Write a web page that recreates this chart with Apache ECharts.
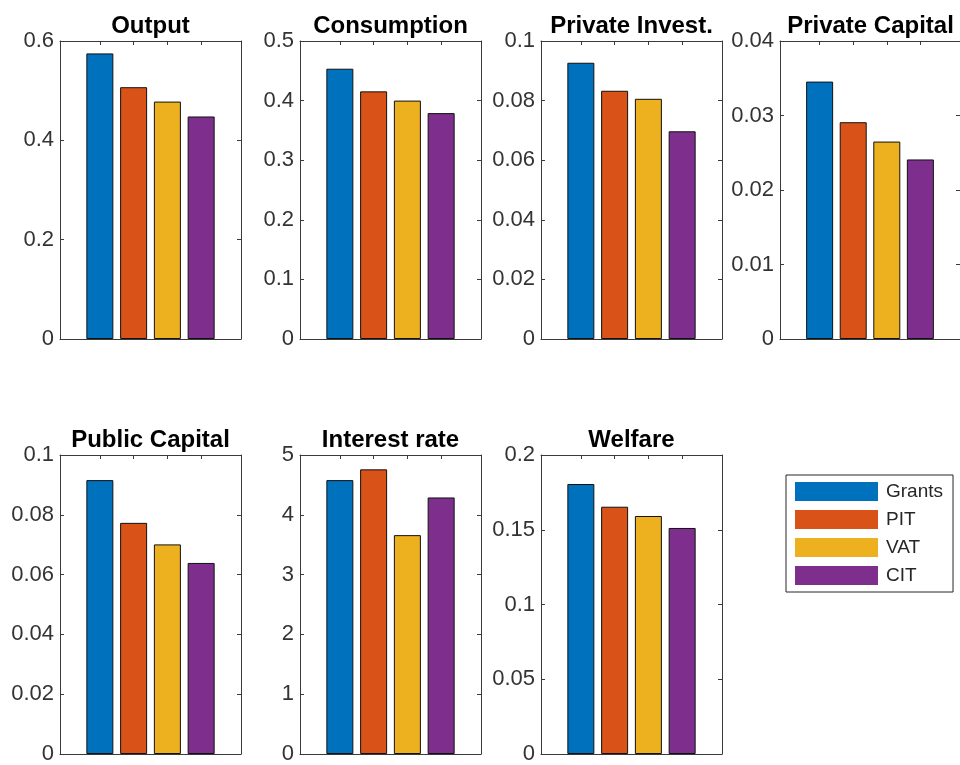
<!DOCTYPE html>
<html>
<head>
<meta charset="utf-8">
<script src="https://cdn.jsdelivr.net/npm/echarts@6/dist/echarts.min.js"></script>
<style>
html,body{margin:0;padding:0;background:#fff;}
#main{width:960px;height:765px;}
</style>
</head>
<body>
<div id="main"></div>
<script>
// ---- data ----
var categories = ['Grants', 'PIT', 'VAT', 'CIT'];
var panelTitles = ['Output', 'Consumption', 'Private Invest.', 'Private Capital', 'Public Capital', 'Interest rate', 'Welfare'];
var output = [0.575, 0.507, 0.478, 0.448];
var consumption = [0.4535, 0.4155, 0.400, 0.379];
var privateInvest = [0.0927, 0.0833, 0.0806, 0.0697];
var privateCapital = [0.03455, 0.0291, 0.0265, 0.0241];
var publicCapital = [0.0916, 0.0773, 0.0701, 0.0639];
var interestRate = [4.58, 4.76, 3.66, 4.29];
var welfare = [0.1806, 0.1654, 0.1592, 0.1512];
var yMax = [0.6, 0.5, 0.1, 0.04, 0.1, 5, 0.2];
var yStep = [0.2, 0.1, 0.02, 0.01, 0.02, 1, 0.05];
var barPositions = [1, 2, 3, 4];
var colors = ['#0072BD', '#D95319', '#EDB120', '#7E2F8E'];

var panelValues = [output, consumption, privateInvest, privateCapital, publicCapital, interestRate, welfare];

// ---- layout ----
var gridRects = [
  {left: 60, top: 41, width: 181, height: 298},
  {left: 300, top: 41, width: 181, height: 298},
  {left: 541, top: 41, width: 181, height: 298},
  {left: 780, top: 41, width: 181, height: 298},
  {left: 60, top: 455, width: 181, height: 299},
  {left: 300, top: 455, width: 181, height: 299},
  {left: 541, top: 455, width: 181, height: 299}
];

var FONT = "'Liberation Sans', Arial, Helvetica, sans-serif";
var AXC = '#3a3a3a';

var grids = [], xAxes = [], yAxes = [], series = [], titles = [];
gridRects.forEach(function (r, p) {
  grids.push({left: r.left, top: r.top, width: r.width, height: r.height, containLabel: false});
  titles.push({
    text: panelTitles[p],
    left: r.left + r.width / 2,
    top: r.top - 27,
    textAlign: 'center',
    padding: 0,
    textStyle: {fontFamily: FONT, fontSize: 24, fontWeight: 'bold', color: '#000'}
  });
  ['bottom', 'top'].forEach(function (pos) {
    xAxes.push({
      type: 'value', gridIndex: p, position: pos, min: -0.18, max: 5.18,
      axisLine: {show: true, onZero: false, lineStyle: {color: AXC, width: 1}},
      axisTick: {show: true, inside: true, length: 4, customValues: barPositions, lineStyle: {color: AXC}},
      axisLabel: {show: false},
      splitLine: {show: false}
    });
  });
  ['left', 'right'].forEach(function (pos) {
    yAxes.push({
      type: 'value', gridIndex: p, position: pos, min: 0, max: yMax[p], interval: yStep[p],
      axisLine: {show: true, onZero: false, lineStyle: {color: AXC, width: 1}},
      axisTick: {show: true, inside: true, length: 4, lineStyle: {color: AXC}},
      axisLabel: {show: pos === 'left', fontFamily: FONT, fontSize: 22, color: '#333', margin: 6,
        formatter: function (v) { return String(parseFloat(v.toFixed(6))); }},
      splitLine: {show: false}
    });
  });
  categories.forEach(function (c, i) {
    series.push({
      name: c,
      type: 'bar',
      xAxisIndex: p * 2,
      yAxisIndex: p * 2,
      stack: 'panel' + p,
      barWidth: 27,
      data: [[barPositions[i], panelValues[p][i]]],
      itemStyle: {color: colors[i], borderColor: '#111', borderWidth: 1},
      emphasis: {disabled: true},
      animation: false
    });
  });
});

var chart = echarts.init(document.getElementById('main'), null, {renderer: 'canvas'});
chart.setOption({
  animation: false,
  backgroundColor: '#fff',
  color: colors,
  title: titles,
  grid: grids,
  xAxis: xAxes,
  yAxis: yAxes,
  legend: {
    data: categories,
    orient: 'vertical',
    left: 786,
    top: 475,
    itemWidth: 83,
    itemHeight: 19,
    itemGap: 9,
    padding: [7, 10, 7, 9],
    borderColor: '#262626',
    borderWidth: 1,
    icon: 'rect',
    itemStyle: {borderWidth: 0},
    textStyle: {fontFamily: FONT, fontSize: 19, color: '#262626', padding: [0, 0, 0, 3]},
    selectedMode: false
  },
  series: series
});
</script>
</body>
</html>
